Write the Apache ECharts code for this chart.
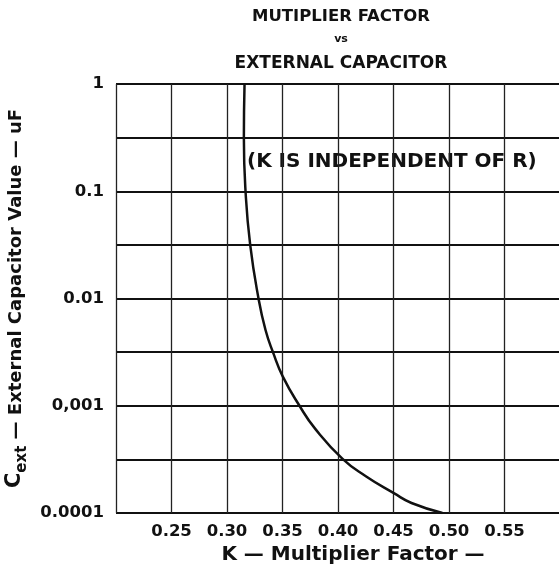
<!DOCTYPE html>
<html>
<head>
<meta charset="utf-8">
<script src="https://cdn.jsdelivr.net/npm/echarts@6/dist/echarts.min.js"></script>
<style>
html,body{margin:0;padding:0;background:#fff;}
#c{width:559px;height:574px;}
</style>
</head>
<body>
<div id="c"></div>
<script>
// Data
const kValues   = [0.3158, 0.3152, 0.3167, 0.3209, 0.3284, 0.3347, 0.3414, 0.3503, 0.3653, 0.3797, 0.4041, 0.4254, 0.4503, 0.4662, 0.4941];
const capValues = [1, 0.316, 0.1, 0.0316, 0.01, 0.00509, 0.00316, 0.00187, 0.001, 0.000605, 0.00032, 0.000219, 0.000153, 0.000124, 0.0001];
const yTickLabels = {'1': '1', '0.1': '0.1', '0.01': '0.01', '0.001': '0,001', '0.0001': '0.0001'};
const xMin = 0.2, xMax = 0.6, xStep = 0.05;

const FONT = 'DejaVu Sans';
const chart = echarts.init(document.getElementById('c'));
const points = kValues.map((k, i) => [k, capValues[i]]);

chart.setOption({
  backgroundColor: '#fff',
  animation: false,
  title: [
    {text: 'MUTIPLIER FACTOR', left: 336, top: 3, textAlign: 'center',
     textStyle: {fontFamily: FONT, fontWeight: 'bold', fontSize: 16.5, color: '#111'}},
    {text: 'vs', left: 336, top: 29, textAlign: 'center',
     textStyle: {fontFamily: FONT, fontWeight: 'bold', fontSize: 11, color: '#111'}},
    {text: 'EXTERNAL CAPACITOR', left: 336, top: 50, textAlign: 'center',
     textStyle: {fontFamily: FONT, fontWeight: 'bold', fontSize: 17, color: '#111'}}
  ],
  graphic: [
    {type: 'text', left: 247, top: 152,
     style: {text: '(K IS INDEPENDENT OF R)', fontFamily: FONT, fontWeight: 'bold', fontSize: 20, fill: '#111'}}
  ],
  grid: {left: 116, top: 84, width: 444, height: 429, containLabel: false, outerBoundsMode: 'none'},
  xAxis: {
    type: 'value', min: xMin, max: xMax, interval: xStep,
    name: 'K \u2014 Multiplier Factor \u2014', nameLocation: 'middle', nameGap: 32,
    nameTextStyle: {fontFamily: FONT, fontWeight: 'bold', fontSize: 20, color: '#111', padding: [0, 0, 0, 30]},
    axisLine: {show: false}, axisTick: {show: false},
    axisLabel: {
      fontFamily: FONT, fontWeight: 'bold', fontSize: 16.5, color: '#111', margin: 10,
      formatter: v => (v < xMin + 0.01 || v > xMax - 0.01) ? '' : v.toFixed(2)
    },
    splitLine: {show: true, lineStyle: {color: '#222', width: 1.3}}
  },
  yAxis: [
    {
      type: 'log', logBase: 10, min: 0.0001, max: 1,
      name: '{c|C}{s|ext}{n| \u2014 External Capacitor Value \u2014 uF}',
      nameLocation: 'middle', nameGap: 86, nameRotate: 90,
      nameTextStyle: {
        rich: {
          c: {fontFamily: FONT, fontWeight: 'bold', fontSize: 21, color: '#111', verticalAlign: 'bottom'},
          s: {fontFamily: FONT, fontWeight: 'bold', fontSize: 15, color: '#111', verticalAlign: 'bottom', padding: [0, 0, -4, 0]},
          n: {fontFamily: FONT, fontWeight: 'bold', fontSize: 18, color: '#111', verticalAlign: 'bottom'}
        }
      },
      axisLine: {show: false}, axisTick: {show: false},
      axisLabel: {
        fontFamily: FONT, fontWeight: 'bold', fontSize: 16.5, color: '#111', margin: 12,
        formatter: v => {
          const key = String(Number(v.toPrecision(3)));
          return yTickLabels[key] !== undefined ? yTickLabels[key] : '';
        }
      },
      splitLine: {show: false}
    },
    {
      type: 'value', min: -4, max: 0, interval: 0.5, position: 'left',
      axisLine: {show: false}, axisTick: {show: false}, axisLabel: {show: false},
      splitLine: {show: true, lineStyle: {color: '#111', width: 2}}
    }
  ],
  series: [{
    type: 'line', yAxisIndex: 0, data: points, smooth: 0.5,
    showSymbol: false, symbol: 'none',
    lineStyle: {color: '#111', width: 2.5}
  }]
});
</script>
</body>
</html>
